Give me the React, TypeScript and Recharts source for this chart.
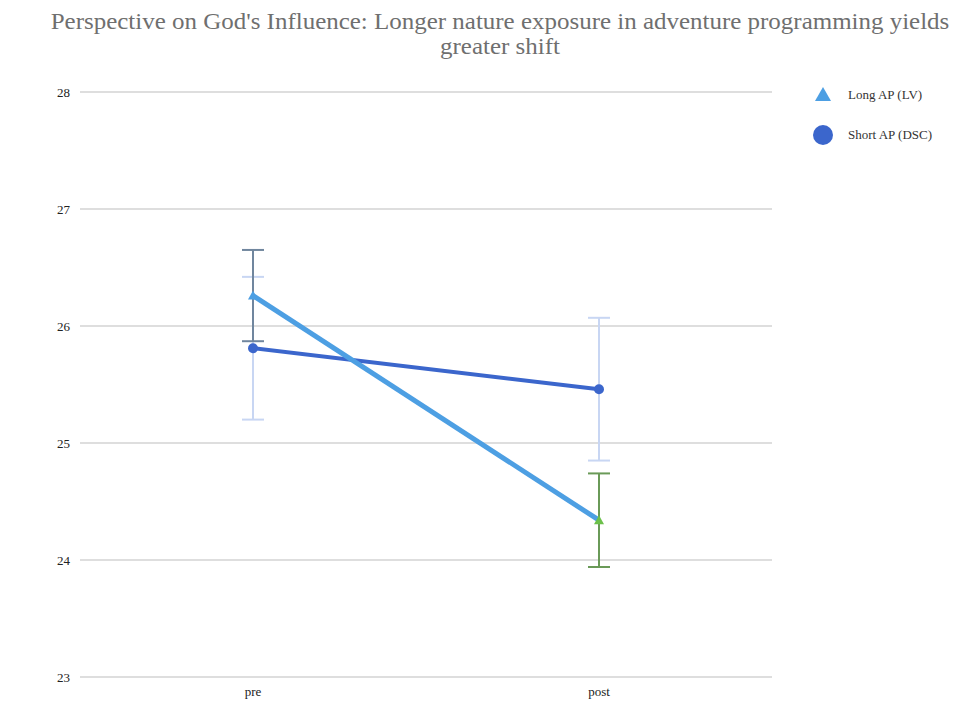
import { LineChart, Line, XAxis, YAxis, CartesianGrid, ErrorBar } from "recharts";

const categories = ["pre", "post"];
const longValues = [26.26, 24.34];
const longErr = [0.39, 0.4];
const shortValues = [25.81, 25.46];
const shortErr = [0.61, 0.61];
const yTicks = [23, 24, 25, 26, 27, 28];

const titleLines = [
  "Perspective on God's Influence: Longer nature exposure in adventure programming yields",
  "greater shift",
];

const LONG = "#4d9fe3";
const SHORT = "#3b66cc";
const longErrColors = ["#70869e", "#6a9a58"];
const longDotColors = ["#4d9fe3", "#6cc04a"];

const data = categories.map((c, i) => ({
  name: c,
  long: longValues[i],
  short: shortValues[i],
  shortErr: shortErr[i],
  longErrPre: i === 0 ? longErr[i] : null,
  longErrPost: i === 1 ? longErr[i] : null,
}));

const serif = '"Liberation Serif", "DejaVu Serif", serif';

const TriangleDot = (props: any) => {
  const { cx, cy, index } = props;
  if (cx == null || cy == null) return null;
  const s = 5;
  return (
    <path
      key={`tri-${index}`}
      d={`M${cx},${cy - s} L${cx + s},${cy + s * 0.8} L${cx - s},${cy + s * 0.8} Z`}
      fill={longDotColors[index]}
    />
  );
};

export default function App() {
  return (
    <div style={{ position: "absolute", left: 0, top: 0, width: 962, height: 728, background: "#fff", fontFamily: serif }}>
      <div
        style={{
          position: "absolute",
          left: 0,
          top: 9,
          width: 1000,
          textAlign: "center",
          fontSize: 24,
          lineHeight: "25px",
          color: "#6f6f6f",
          transform: "scaleX(1.04)",
          transformOrigin: "500px 0",
        }}
      >
        {titleLines.map((t) => (
          <div key={t}>{t}</div>
        ))}
      </div>
      <LineChart
        width={962}
        height={728}
        data={data}
        margin={{ top: 92, right: 190, bottom: 21, left: 0 }}
      >
        <CartesianGrid vertical={false} stroke="#dedede" strokeWidth={2} />
        <XAxis
          dataKey="name"
          axisLine={false}
          tickLine={false}
          padding={{ left: 173, right: 173 }}
          tick={{ fill: "#222", fontSize: 13, fontFamily: serif }}
          tickMargin={4}
        />
        <YAxis
          width={80}
          domain={[23, 28]}
          ticks={yTicks}
          axisLine={false}
          tickLine={false}
          tick={{ fill: "#222", fontSize: 13, fontFamily: serif }}
          tickMargin={4}
        />
        <Line
          dataKey="short"
          stroke={SHORT}
          strokeWidth={4}
          dot={{ r: 5, fill: SHORT, stroke: SHORT, strokeWidth: 0 }}
          isAnimationActive={false}
        >
          <ErrorBar dataKey="shortErr" width={11} stroke="#c8d6f3" strokeWidth={2} />
        </Line>
        <Line
          dataKey="long"
          stroke={LONG}
          strokeWidth={5}
          dot={<TriangleDot />}
          isAnimationActive={false}
        >
          <ErrorBar dataKey="longErrPre" width={11} stroke={longErrColors[0]} strokeWidth={2} />
          <ErrorBar dataKey="longErrPost" width={11} stroke={longErrColors[1]} strokeWidth={2} />
        </Line>
      </LineChart>
      <div style={{ position: "absolute", left: 812, top: 84, fontSize: 13, color: "#333" }}>
        <div style={{ display: "flex", alignItems: "center", height: 22, marginBottom: 18 }}>
          <svg width={22} height={22} style={{ marginRight: 14 }}>
            <path d="M11,3 L19,17 L3,17 Z" fill={LONG} />
          </svg>
          <span>Long AP (LV)</span>
        </div>
        <div style={{ display: "flex", alignItems: "center", height: 22 }}>
          <svg width={22} height={22} style={{ marginRight: 14 }}>
            <circle cx={11} cy={11} r={10} fill={SHORT} />
          </svg>
          <span>Short AP (DSC)</span>
        </div>
      </div>
    </div>
  );
}
